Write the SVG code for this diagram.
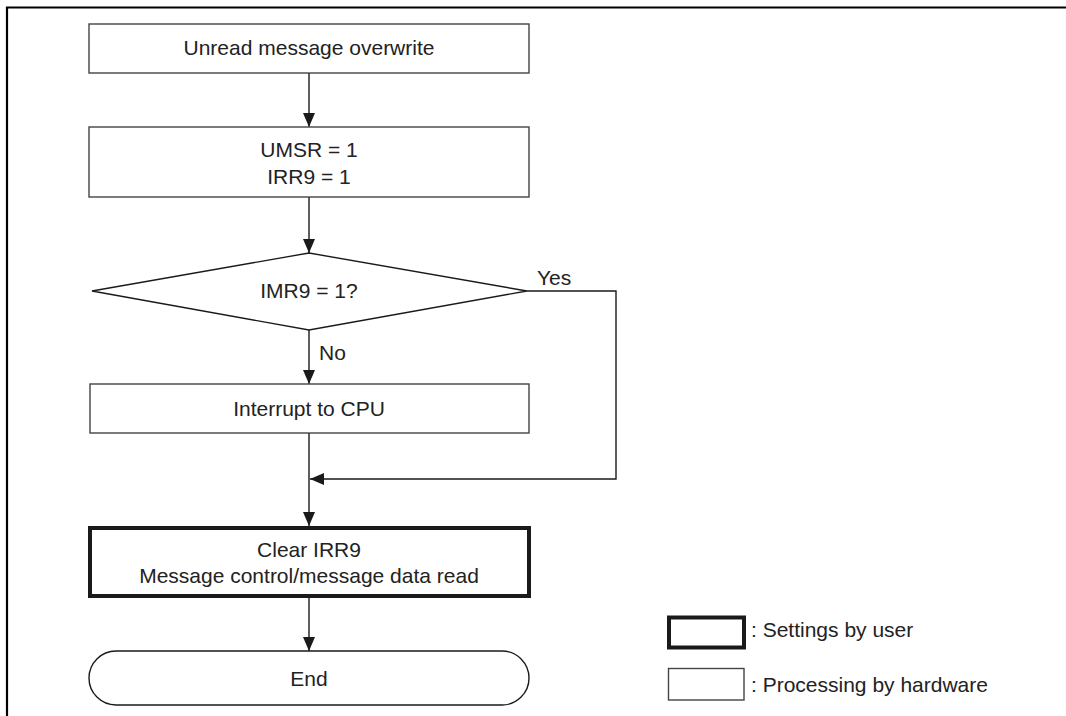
<svg xmlns="http://www.w3.org/2000/svg" width="1066" height="716" viewBox="0 0 1066 716">
<defs>
<marker id="ah" markerWidth="14" markerHeight="12" refX="14" refY="6" orient="auto" markerUnits="userSpaceOnUse">
<path d="M0,0 L14,6 L0,12 Z" fill="#1a1a1a"/>
</marker>
</defs>
<style>
.t{font-family:"Liberation Sans",Arial,sans-serif;font-size:21px;fill:#222;}
.c{text-anchor:middle;}
.hw{fill:#fff;stroke:#444;stroke-width:1.4;}
.us{fill:#fff;stroke:#1a1a1a;stroke-width:4;}
.ln{fill:none;stroke:#1a1a1a;stroke-width:1.4;}
</style>
<rect width="1066" height="716" fill="#fff"/>
<path d="M7,716 V7.5 H1066" fill="none" stroke="#000" stroke-width="2.2"/>
<g id="connectors">
<line class="ln" x1="309" y1="73" x2="309" y2="127" marker-end="url(#ah)"/>
<line class="ln" x1="309" y1="197" x2="309" y2="253" marker-end="url(#ah)"/>
<line class="ln" x1="309" y1="330" x2="309" y2="384" marker-end="url(#ah)"/>
<line class="ln" x1="309" y1="433" x2="309" y2="526" marker-end="url(#ah)"/>
<polyline class="ln" points="527,291 616,291 616,479 310,479" marker-end="url(#ah)"/>
<line class="ln" x1="309" y1="598" x2="309" y2="651" marker-end="url(#ah)"/>
<text class="t" x="537" y="285">Yes</text>
<text class="t" x="319" y="360">No</text>
</g>
<g id="n1">
<rect class="hw" x="89" y="24" width="440" height="49"/>
<text class="t c" x="309" y="55">Unread message overwrite</text>
</g>
<g id="n2">
<rect class="hw" x="89" y="127" width="440" height="70"/>
<text class="t c" x="309" y="157">UMSR = 1</text>
<text class="t c" x="309" y="184">IRR9 = 1</text>
</g>
<g id="n3">
<polygon class="hw" points="309,253 527,291 309,330 92,291" style="stroke:#1a1a1a"/>
<text class="t c" x="309" y="298">IMR9 = 1?</text>
</g>
<g id="n4">
<rect class="hw" x="90" y="384" width="439" height="49"/>
<text class="t c" x="309" y="416">Interrupt to CPU</text>
</g>
<g id="n5">
<rect class="us" x="90" y="528" width="439" height="68"/>
<text class="t c" x="309" y="557">Clear IRR9</text>
<text class="t c" x="309" y="583">Message control/message data read</text>
</g>
<g id="n6">
<rect class="hw" x="89" y="651" width="440" height="54" rx="27" ry="27" style="stroke:#1a1a1a"/>
<text class="t c" x="309" y="686">End</text>
</g>
<g id="legend">
<rect class="us" x="669" y="617.5" width="75" height="30"/>
<text class="t" x="751" y="637">: Settings by user</text>
<rect class="hw" x="668.5" y="668.5" width="75.5" height="31.5"/>
<text class="t" x="751" y="692">: Processing by hardware</text>
</g>
</svg>
